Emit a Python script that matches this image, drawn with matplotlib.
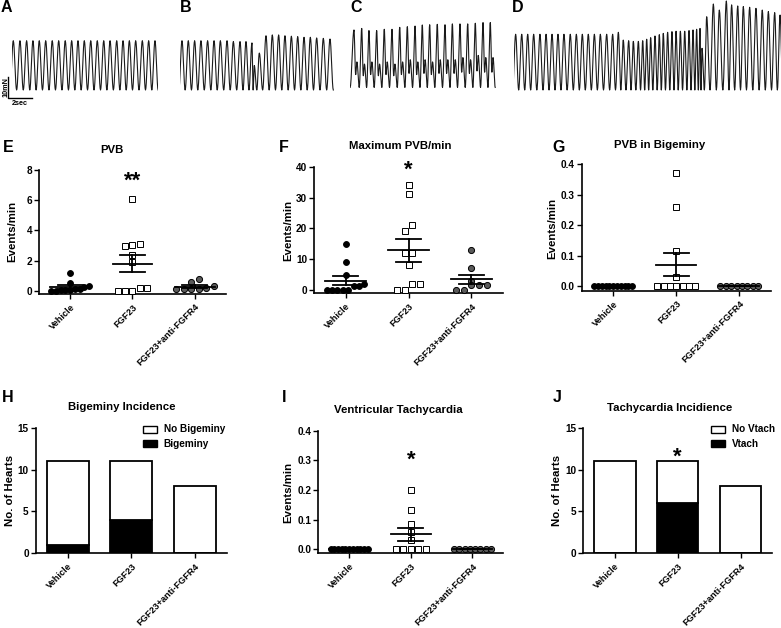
import numpy as np
import matplotlib
matplotlib.use('Agg')
import matplotlib.pyplot as plt
from matplotlib.patches import Patch
from matplotlib.transforms import ScaledTranslation

plt.rcParams['font.family'] = ['Liberation Sans', 'DejaVu Sans']
plt.rcParams['font.weight'] = 'bold'
plt.rcParams['axes.labelweight'] = 'bold'

# ---------------- data ----------------
CATEGORIES = ['Vehicle', 'FGF23', 'FGF23+anti-FGFR4']

# contraction traces: peak times (s) and peak force (mN)
A_T = [0.11, 0.68, 1.25, 1.79, 2.33, 2.88, 3.44, 3.99, 4.55, 5.10, 5.64, 6.18,
       6.73, 7.29, 7.84, 8.38, 8.95, 9.49, 10.03, 10.57, 11.14, 11.68, 12.22]
A_F = [22.8] * 23
B_T = [0.17, 0.71, 1.25, 1.79, 2.36, 2.91, 3.45, 4.02, 4.56, 5.13, 5.64, 6.15,
       6.35, 6.78, 7.35, 7.89, 8.43, 8.97, 9.52, 10.06, 10.60, 11.14, 11.68,
       12.25, 12.82]
B_F = [22.8, 22.8, 22.8, 22.8, 22.8, 22.8, 22.8, 22.8, 22.4, 22.4, 22.4, 21.8,
       11.3, 17.1, 25.1, 25.5, 25.5, 25.1, 24.9, 24.7, 24.4, 24.4, 24.1, 23.9, 23.6]
C_T = [0.34, 1.00, 1.62, 2.28, 2.93, 3.59, 4.25, 4.90, 5.56, 6.18, 6.81, 7.46,
       8.12, 8.75, 9.40, 10.06, 10.71, 11.37, 11.99]
C_F = [27.8, 28.5, 27.5, 27.5, 28.1, 28.1, 29.0, 29.3, 29.6, 30.1, 30.2, 30.4,
       30.2, 30.6, 30.6, 30.6, 30.9, 31.2, 31.2]
C_BUMP = [13, 12, 13, 12, 13, 12, 13, 14, 13, 14, 13, 14, 14, 14, 15, 14, 16, 15, 15]
C_BASE = 1.2
D_T = [0.14, 0.66, 1.17, 1.68, 2.22, 2.74, 3.25, 3.76, 4.27, 4.81, 5.33, 5.84,
       6.35, 6.87, 7.38, 7.92, 8.43, 8.92, 9.34, 9.80, 10.20, 10.63, 11.00,
       11.34, 11.68, 12.05, 12.42, 12.76, 13.13, 13.50, 13.85, 14.22, 14.59,
       14.96, 15.30, 15.61, 15.90, 16.07, 16.47, 17.04, 17.55, 18.15, 18.60,
       19.12, 19.60, 20.14, 20.68, 21.22, 21.74, 22.28, 22.74]
D_F = [25.8, 25.8, 25.8, 25.8, 25.8, 25.8, 25.8, 25.8, 25.8, 25.8, 25.8, 25.8,
       25.8, 25.8, 25.8, 25.8, 25.8, 26.7, 23.1, 22.8, 22.5, 22.5, 22.8, 23.5,
       24.2, 25.0, 25.6, 26.2, 26.7, 27.0, 27.2, 27.2, 27.2, 27.5, 27.8, 28.1,
       28.5, 19.3, 33.9, 39.8, 37.0, 41.2, 39.4, 38.9, 38.6, 38.3, 37.8, 37.0,
       36.3, 35.8, 34.7]

# E: PVB (events/min)
E_VEH = [1.2, 0.53, 0.3, 0.25, 0.1, 0.1, 0.05, 0.05, 0.05, 0.0, 0.0]
E_FGF = [6.05, 3.1, 2.98, 3.0, 2.35, 1.9, 0.2, 0.0, 0.0, 0.0, 0.18]
E_ANTI = [0.75, 0.55, 0.3, 0.15, 0.1, 0.1, 0.1, 0.1]
# F: maximum PVB/min
F_VEH = [15, 9, 5, 2, 1.3, 1.3, 0, 0, 0, 0, 0]
F_FGF = [34, 31, 21, 19, 12, 12, 8, 2, 2, 0, 0]
F_ANTI = [13, 7, 3, 1.5, 1.5, 1.5, 0, 0]
# G: PVB in bigeminy
G_VEH = [0.0, 0.0, 0.0, 0.0, 0.0, 0.0, 0.0, 0.0, 0.0, 0.0, 0.0]
G_FGF = [0.37, 0.26, 0.115, 0.03, 0.0, 0.0, 0.0, 0.0, 0.0, 0.0, 0.0]
G_ANTI = [0.0, 0.0, 0.0, 0.0, 0.0, 0.0, 0.0, 0.0]
# I: ventricular tachycardia
I_VEH = [0.0, 0.0, 0.0, 0.0, 0.0, 0.0, 0.0, 0.0, 0.0, 0.0, 0.0]
I_FGF = [0.2, 0.133, 0.085, 0.057, 0.033, 0.0, 0.0, 0.0, 0.0, 0.0]
I_ANTI = [0.0, 0.0, 0.0, 0.0, 0.0, 0.0, 0.0, 0.0]
# H: bigeminy incidence
H_BIG = [1, 4, 0]
H_NOBIG = [10, 7, 8]
# J: tachycardia incidence
J_VT = [0, 6, 0]
J_NOVT = [11, 5, 8]

# ---------------- layout helpers ----------------
W, Hh = 781, 628
fig = plt.figure(figsize=(W / 100, Hh / 100), dpi=100)


def rect(l, t, r, b):
    return [l / W, 1 - b / Hh, (r - l) / W, (b - t) / Hh]


def fx(x):
    return x / W


def fy(y):
    return 1 - y / Hh


# ---------------- traces ----------------
PX_S = 11.7   # px per second
PX_MN = 2.16  # px per mN


def build_trace(times, amps, base=0.0, bumps=None):
    kp = []
    P0 = times[1] - times[0]
    kp.append((times[0] - P0 / 2, base))
    n = len(times)
    for i in range(n):
        t = times[i]
        kp.append((t, amps[i]))
        P = (times[i + 1] - t) if i < n - 1 else (t - times[i - 1])
        if bumps is None:
            kp.append((t + P / 2, base))
        else:
            b = bumps[i]
            kp += [(t + 0.22 * P, 0.55 * b), (t + 0.38 * P, b), (t + 0.68 * P, base)]
    xs, ys = [], []
    s = np.linspace(0, 1, 9)
    for (t0, y0), (t1, y1) in zip(kp[:-1], kp[1:]):
        xs.extend(t0 + (t1 - t0) * s)
        ys.extend(y0 + (y1 - y0) * (1 - np.cos(np.pi * s)) / 2)
    return np.array(xs), np.array(ys)


def trace_axes(L, R):
    ax = fig.add_axes(rect(L, 0, R, 110))
    ax.set_xlim(0, (R - L) / PX_S)
    ax.set_ylim(-20 / PX_MN, 90 / PX_MN)
    ax.axis('off')
    return ax


traces = [(12, 158, A_T, A_F, 0.0, None), (180, 336, B_T, B_F, 0.0, None),
          (350, 500, C_T, C_F, C_BASE, C_BUMP), (514, 781, D_T, D_F, 0.0, None)]
trace_axs = []
for L, R, T, F, base, bumps in traces:
    ax = trace_axes(L, R)
    x, y = build_trace(T, F, base, bumps)
    ax.plot(x, y, color='#1a1a1a', lw=0.8)
    trace_axs.append(ax)

# scale bar on A
axA = trace_axs[0]
x0 = (8.3 - 12) / PX_S
y0 = (90 - 98.3) / PX_MN
axA.plot([x0, x0, x0 + 2.0], [y0 + 10, y0, y0], color='black', lw=1.0, clip_on=False)
axA.text(x0 - 0.22, y0 + 5, '10mN', rotation=90, ha='center', va='center', fontsize=5.2)
axA.text(x0 + 0.95, y0 - 2.6, '2sec', ha='center', va='center', fontsize=5.2)

# ---------------- panel letters ----------------
for lab, x, y in [('A', 6, 8), ('B', 186, 8), ('C', 356, 8), ('D', 518, 7),
                  ('E', 8, 147), ('F', 284, 147), ('G', 559, 147),
                  ('H', 8, 397), ('I', 284, 397), ('J', 557, 397)]:
    fig.text(fx(x), fy(y), lab, ha='center', va='center', fontsize=11.5, fontweight='bold')


# ---------------- scatter panels ----------------
def swarm_offsets(vals, px_per_unit, tol_px=6.5, step=0.12, maxw=0.6):
    vals = np.asarray(vals, dtype=float)
    order = np.argsort(vals, kind='stable')
    offs = np.zeros(len(vals))
    n = len(vals)
    i = 0
    while i < n:
        j = i
        v0 = vals[order[i]]
        while j < n and (vals[order[j]] - v0) * px_per_unit < tol_px:
            j += 1
        k = j - i
        s = step if k <= 1 else min(step, maxw / (k - 1))
        for m in range(k):
            offs[order[i + m]] = (m - (k - 1) / 2) * s
        i = j
    return offs


def style_axes(ax, yticks, fmt):
    for sp in ['top', 'right']:
        ax.spines[sp].set_visible(False)
    for sp in ['left', 'bottom']:
        ax.spines[sp].set_linewidth(1.2)
    ax.set_xlim(-0.5, 2.5)
    ax.set_xticks([0, 1, 2])
    ax.set_xticklabels(CATEGORIES, fontsize=6.6, fontweight='bold')
    shift = ScaledTranslation(2 / 72, 0, fig.dpi_scale_trans)
    for lab in ax.get_xticklabels():
        lab.set_rotation(45)
        lab.set_ha('right')
        lab.set_va('top')
        lab.set_rotation_mode('anchor')
        lab.set_transform(lab.get_transform() + shift)
    ax.set_yticks(yticks)
    ax.set_yticklabels([fmt.format(v) for v in yticks], fontsize=7.2, fontweight='bold')
    ax.tick_params(axis='both', direction='out', length=3.5, width=1.0)
    ax.tick_params(axis='x', pad=2.5)
    ax.tick_params(axis='y', pad=1.5)


def scatter_panel(box, ylim, yticks, fmt, groups, title, tpos, ylab, lpos, star=None):
    L, T, R, B = box
    ax = fig.add_axes(rect(L, T, R, B))
    ax.set_ylim(*ylim)
    px_per_unit = (B - T) / (ylim[1] - ylim[0])
    styles = [dict(marker='o', mfc='black', ms=4.2),
              dict(marker='s', mfc='white', ms=4.2),
              dict(marker='o', mfc='#5a5a5a', ms=4.4)]
    for i, vals in enumerate(groups):
        vals = np.asarray(vals, dtype=float)
        off = swarm_offsets(vals, px_per_unit)
        ax.plot(i + off, vals, ls='none', mec='black', mew=0.7, clip_on=False,
                zorder=3, **styles[i])
        m = vals.mean()
        sem = vals.std(ddof=1) / np.sqrt(len(vals))
        kw = dict(color='black', lw=1.3, zorder=4, clip_on=False)
        ax.plot([i - 0.32, i + 0.32], [m, m], **kw)
        ax.plot([i, i], [m - sem, m + sem], **kw)
        ax.plot([i - 0.2, i + 0.2], [m + sem, m + sem], **kw)
        ax.plot([i - 0.2, i + 0.2], [m - sem, m - sem], **kw)
    style_axes(ax, yticks, fmt)
    fig.text(fx(tpos[0]), fy(tpos[1]), title, ha='center', va='center',
             fontsize=8.2, fontweight='bold')
    fig.text(fx(lpos[0]), fy(lpos[1]), ylab, ha='center', va='center', rotation=90,
             fontsize=8.2, fontweight='bold')
    if star is not None:
        txt, sy, fs = star
        ax.annotate(txt, xy=(1, sy), xytext=(0, -0.58 * fs), textcoords='offset points',
                    ha='center', va='baseline', fontsize=fs, fontweight='bold',
                    annotation_clip=False)
    return ax


scatter_panel((39, 170, 226, 294), (-0.22, 8), [0, 2, 4, 6, 8], '{:g}',
              [E_VEH, E_FGF, E_ANTI], 'PVB', (112, 150), 'Events/min', (12, 231),
              star=('**', 7.73, 16))
scatter_panel((314, 166.7, 503, 293.3), (-1.07, 40), [0, 10, 20, 30, 40], '{:g}',
              [F_VEH, F_FGF, F_ANTI], 'Maximum PVB/min', (400, 146), 'Events/min',
              (288, 230), star=('*', 41.1, 16))
scatter_panel((581.7, 164.3, 770.7, 290.7), (-0.0155, 0.4), [0, 0.1, 0.2, 0.3, 0.4],
              '{:.1f}', [G_VEH, G_FGF, G_ANTI], 'PVB in Bigeminy', (660, 145),
              'Events/min', (552, 228))
scatter_panel((318.3, 430.7, 503.3, 553.3), (-0.0135, 0.4), [0, 0.1, 0.2, 0.3, 0.4],
              '{:.1f}', [I_VEH, I_FGF, I_ANTI], 'Ventricular Tachycardia', (398, 410),
              'Events/min', (288, 492), star=('*', 0.326, 16))


# ---------------- bar panels ----------------
def bar_panel(box, pos_vals, neg_vals, labels, title, tpos, lpos, legpos, star=None):
    L, T, R, B = box
    ax = fig.add_axes(rect(L, T, R, B))
    ax.set_ylim(0, 15)
    x = np.arange(3)
    ax.bar(x, pos_vals, width=0.66, color='black', edgecolor='black', lw=1.3, zorder=2)
    ax.bar(x, neg_vals, bottom=pos_vals, width=0.66, color='white', edgecolor='black',
           lw=1.3, zorder=2)
    style_axes(ax, [0, 5, 10, 15], '{:g}')
    handles = [Patch(facecolor='white', edgecolor='black', lw=1.0, label=labels[0]),
               Patch(facecolor='black', edgecolor='black', lw=1.0, label=labels[1])]
    ax.legend(handles=handles, loc='upper left', bbox_to_anchor=(fx(legpos[0]), fy(legpos[1])),
              bbox_transform=fig.transFigure, frameon=False, fontsize=7.2,
              handlelength=1.4, handleheight=0.7, handletextpad=0.7, labelspacing=0.45,
              borderpad=0, borderaxespad=0)
    fig.text(fx(tpos[0]), fy(tpos[1]), title, ha='center', va='center',
             fontsize=8.2, fontweight='bold')
    fig.text(fx(lpos[0]), fy(lpos[1]), 'No. of Hearts', ha='center', va='center',
             rotation=90, fontsize=8.2, fontweight='bold')
    if star is not None:
        txt, sy, fs = star
        ax.annotate(txt, xy=(1, sy), xytext=(0, -0.58 * fs), textcoords='offset points',
                    ha='center', va='baseline', fontsize=fs, fontweight='bold',
                    annotation_clip=False)
    return ax


bar_panel((35.7, 427.7, 226.7, 553.3), H_BIG, H_NOBIG, ['No Bigeminy', 'Bigeminy'],
          'Bigeminy Incidence', (121.7, 407.3), (10, 490.7), (142.7, 424.5))
bar_panel((583.3, 427.7, 772, 553.3), J_VT, J_NOVT, ['No Vtach', 'Vtach'],
          'Tachycardia Incidience', (670, 408), (557, 490.7), (710.7, 424.5),
          star=('*', 12.4, 16))

fig.savefig('out.png', dpi=100)
